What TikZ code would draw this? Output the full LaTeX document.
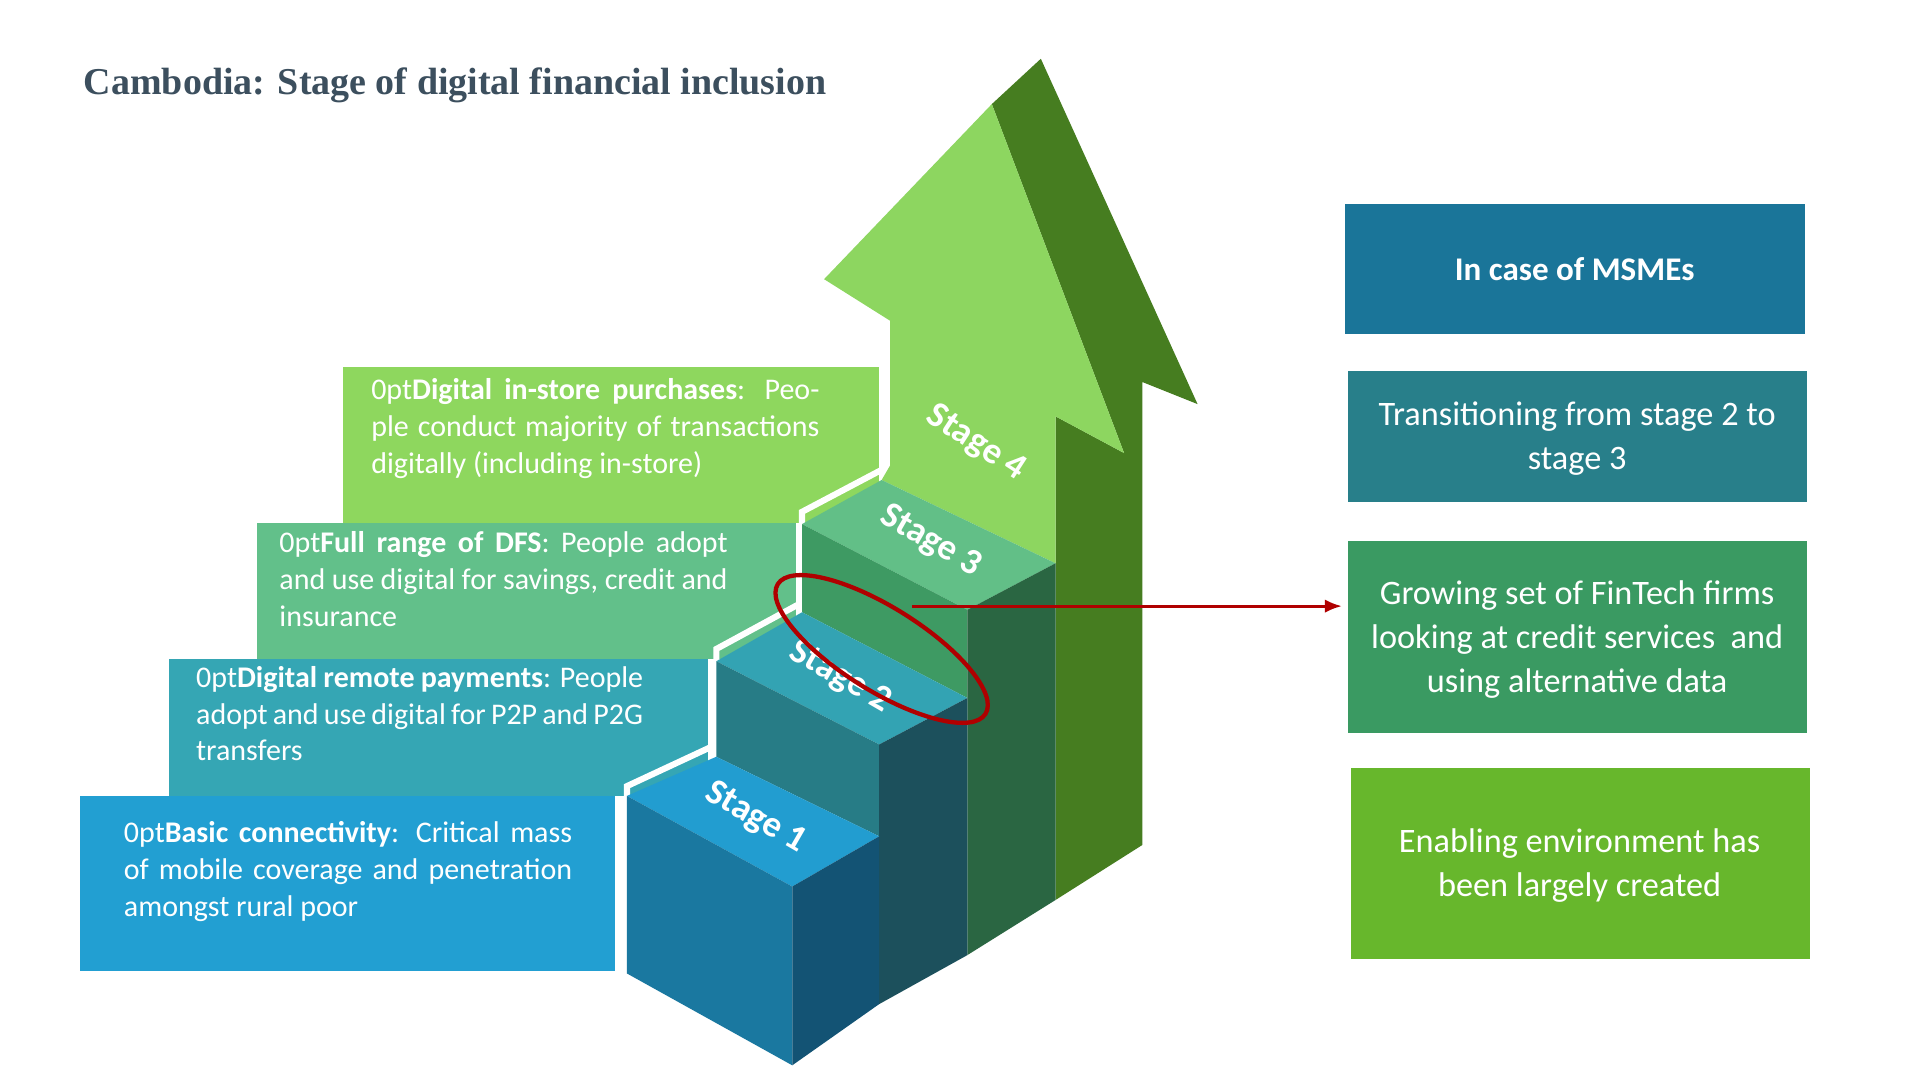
\documentclass[tikz,border=0pt]{standalone}
\usepackage{fontspec}
\usetikzlibrary{arrows.meta}
\setmainfont{Carlito}
\newfontfamily\titlefont{Liberation Serif}
\begin{document}
\begin{tikzpicture}[x=1pt,y=-1pt]
\definecolor{bA}{HTML}{229FD2}\definecolor{bB}{HTML}{35A6B4}\definecolor{bC}{HTML}{62C08A}\definecolor{bD}{HTML}{8ED75E}
\definecolor{sAt}{HTML}{229DD0}\definecolor{sAf}{HTML}{1A78A0}\definecolor{sAr}{HTML}{135374}
\definecolor{sBt}{HTML}{33A3B3}\definecolor{sBf}{HTML}{277C86}\definecolor{sBr}{HTML}{1C505C}
\definecolor{sCt}{HTML}{62BF87}\definecolor{sCf}{HTML}{3E9A63}\definecolor{sCr}{HTML}{2A6642}
\definecolor{arF}{HTML}{8DD660}\definecolor{arS}{HTML}{467D20}
\definecolor{rA}{HTML}{1A7599}\definecolor{rB}{HTML}{287F8A}\definecolor{rC}{HTML}{3A9A62}\definecolor{rD}{HTML}{67B72C}
\definecolor{redc}{HTML}{B00000}\definecolor{titc}{HTML}{3C4F5E}
\tikzset{lbox/.style={anchor=north west,inner sep=0pt,text=white,font=\fontsize{24.5}{30}\selectfont\hyphenpenalty=10000\exhyphenpenalty=10000,align=justify},
 rbox/.style={anchor=center,inner sep=0pt,text=white,font=\fontsize{28}{36}\selectfont,align=center},
 stg/.style={text=white,font=\bfseries\fontsize{30}{32}\selectfont},
 wline/.style={draw=white,line width=5pt,line join=miter}}
\useasboundingbox (0,0) rectangle (1568,882);
\fill[white] (0,0) rectangle (1568,882);
\node[anchor=west,text=titc,font=\titlefont\bfseries\fontsize{31}{34}\selectfont] (title) at (65,70) {Cambodia: Stage of digital financial inclusion};
% left boxes
\fill[bD] (280,300) rectangle (718,427);
\fill[bC] (210,427) rectangle (650,538);
\fill[bB] (138,538) rectangle (578,650);
\fill[bA] (65,650) rectangle (502,793);
\node[lbox,text width=366pt] (t4) at (303,309) {\textbf{Digital in-store purchases}: People conduct majority of transactions digitally (including in-store)};
\node[lbox,text width=366pt] (t3) at (228,434) {\textbf{Full range of DFS}: People adopt and use digital for savings, credit and insurance};
\node[lbox,text width=365pt] (t2) at (160,544) {\textbf{Digital remote payments}: People adopt and use digital for P2P and P2G transfers};
\node[lbox,text width=366pt] (t1) at (101,671) {\textbf{Basic connectivity}: Critical mass of mobile coverage and penetration amongst rural poor};
% white separation outline
\draw[wline] (673,228) -- (727,262) -- (727,380) -- (655,418) -- (655,492) -- (585,530) -- (585,608) -- (512,642) -- (512,880);
% arrow
\fill[arS] (810,85) -- (850,48) -- (978,330) -- (933,312) -- (933,690) -- (862,735) -- (862,340) -- (918,370) -- cycle;
\fill[arF] (727,380) -- (727,262) -- (673,228) -- (810,85) -- (918,370) -- (862,340) -- (862,460) -- (720,392) -- cycle;
% step 3
\fill[sCt] (655,428) -- (720,392) -- (862,460) -- (790,498) -- cycle;
\fill[sCf] (655,428) -- (790,498) -- (790,570) -- (655,500) -- cycle;
\fill[sCr] (790,498) -- (862,460) -- (862,735) -- (790,780) -- cycle;
% step 2
\fill[sBt] (585,540) -- (655,500) -- (790,570) -- (718,608) -- cycle;
\fill[sBf] (585,540) -- (718,608) -- (718,683) -- (585,618) -- cycle;
\fill[sBr] (718,608) -- (790,570) -- (790,780) -- (718,820) -- cycle;
% step 1
\fill[sAt] (512,650) -- (585,618) -- (718,683) -- (647,724) -- cycle;
\fill[sAf] (512,650) -- (647,724) -- (647,870) -- (512,795) -- cycle;
\fill[sAr] (647,724) -- (718,683) -- (718,820) -- (647,870) -- cycle;
% stage labels
\node[stg,rotate=-33] (s4) at (797,362) {Stage 4};
\node[stg,rotate=-30] (s3) at (760,442) {Stage 3};
\node[stg,rotate=-30] (s2) at (686,553) {Stage 2};
\node[stg,rotate=-30] (s1) at (617,668) {Stage 1};
% red ellipse and arrow
\draw[redc,line width=3.5pt,rotate around={-32:(720,530)}] (720,530) ellipse [x radius=100pt, y radius=34pt];
\coordinate (ae) at (745,495);
% right boxes
\fill[rA] (1098,167) rectangle (1474,273);
\fill[rB] (1101,303) rectangle (1476,410);
\fill[rC] (1101,442) rectangle (1476,599);
\fill[rD] (1103,627) rectangle (1478,783);
\node[rbox,font=\bfseries\fontsize{27}{35}\selectfont] (m) at (1286,220) {In case of MSMEs};
\node[rbox] (r2) at (1288,358) {Transitioning from stage 2 to\\stage 3};
\node[rbox] (r3) at (1288,522) {Growing set of FinTech firms\\looking at credit services~ and\\using alternative data};
\node[rbox] (r4) at (1290,707) {Enabling environment has\\been largely created};
\coordinate (ab) at (1096,495);
\draw[redc,line width=2.5pt,-{Latex[length=14pt,width=11pt]}] (ae) -- (ab);
\end{tikzpicture}
\end{document}
